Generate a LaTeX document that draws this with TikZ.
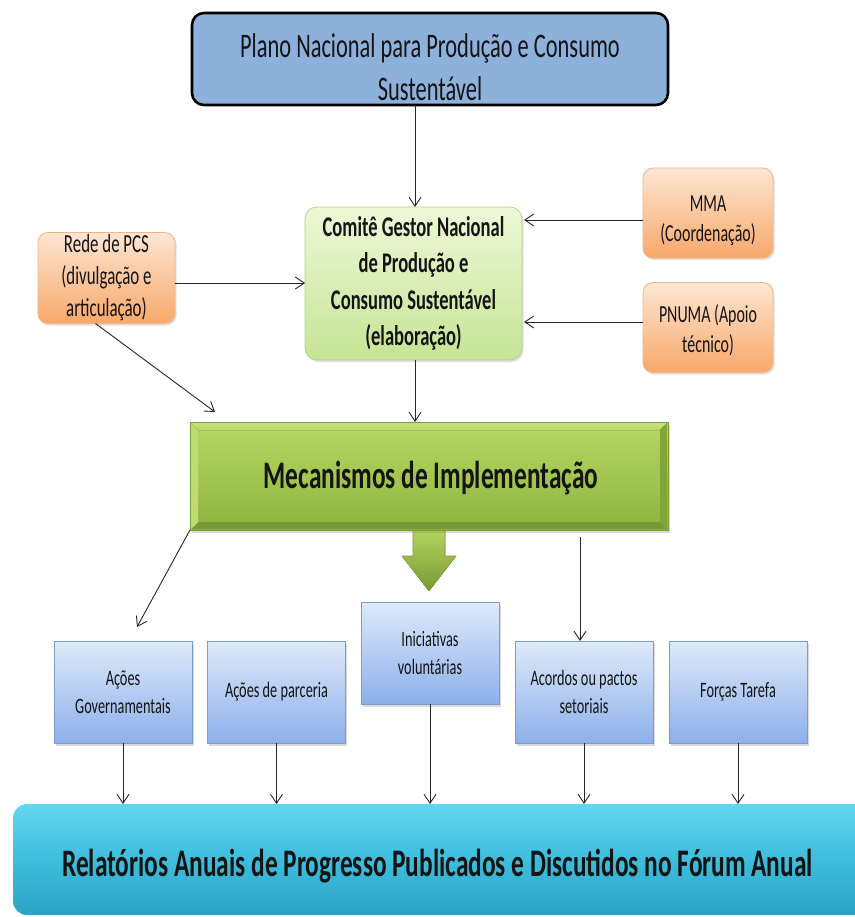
\documentclass[tikz,border=0pt]{standalone}
\usepackage{fontspec}
\setmainfont{Carlito}[FakeStretch=0.65]
\usetikzlibrary{arrows.meta,shadows,calc}
\definecolor{planblue}{HTML}{8EB1DC}
\definecolor{comtop}{HTML}{EDF8D6}
\definecolor{combot}{HTML}{C6E496}
\definecolor{comline}{HTML}{B3D585}
\definecolor{ortop}{HTML}{FDE6D3}
\definecolor{orbot}{HTML}{F8A86A}
\definecolor{orline}{HTML}{EFB489}
\definecolor{gtop}{HTML}{B8D862}
\definecolor{gbot}{HTML}{8DB43E}
\definecolor{gline}{HTML}{7E9F36}
\definecolor{btop}{HTML}{DFEAF9}
\definecolor{bbot}{HTML}{8CAFEB}
\definecolor{bline}{HTML}{7C9CC9}
\definecolor{ctop}{HTML}{62D6F0}
\definecolor{cmid}{HTML}{3EBDDD}
\definecolor{cbot}{HTML}{2DA3C4}
\definecolor{txt}{HTML}{141414}
\begin{document}
\begin{tikzpicture}[x=1pt,y=-1pt,
  every node/.style={inner sep=0pt,outer sep=0pt,text=txt},
  arr/.style={draw=black!85,line width=0.9pt,-{Straight Barb[length=9pt,width=12pt,line width=0.9pt]}},
  planbox/.style={draw=black,line width=2.6pt,rounded corners=12pt,fill=planblue},
  combox/.style={draw=comline,line width=0.8pt,rounded corners=12pt,top color=comtop,bottom color=combot,
     drop shadow={shadow xshift=1.5pt,shadow yshift=-2pt,opacity=0.25}},
  orbox/.style={draw=orline,line width=0.8pt,rounded corners=10pt,top color=ortop,bottom color=orbot,
     drop shadow={shadow xshift=1.5pt,shadow yshift=-2pt,opacity=0.25},
     minimum width=130pt,minimum height=90pt,align=center,font=\fontsize{24.5}{30}\selectfont},
  ortext/.style={align=center,font=\fontsize{24.5}{30}\selectfont},
  mecbox/.style={draw=gline,line width=0.8pt,top color=gtop,bottom color=gbot,
     drop shadow={shadow xshift=2pt,shadow yshift=-3pt,opacity=0.3}},
  bluebox/.style={draw=bline,line width=0.8pt,top color=btop,bottom color=bbot,
     drop shadow={shadow xshift=1.5pt,shadow yshift=-2.5pt,opacity=0.3},
     minimum width=138pt,minimum height=102pt,align=center,font=\fontsize{22}{28}\selectfont},
  barbox/.style={draw=none,rounded corners=14pt,top color=ctop,bottom color=cbot,middle color=cmid}
]
\useasboundingbox (0,0) rectangle (854,917);

% top plan box
\node[planbox,minimum width=476pt,minimum height=92pt] (plan) at (430,59) {};
\node[font=\fontsize{34.5}{43}\selectfont,align=center] (plantext) at (430,67)
  {Plano Nacional para Produção e Consumo\\Sustentável};

% comite
\node[combox,minimum width=217pt,minimum height=153pt,align=center,
  font=\bfseries\fontsize{28.5}{36.5}\selectfont] (cg) at (413.5,283.5)
  {Comitê Gestor Nacional\\de Produção e\\Consumo Sustentável\\(elaboração)};

% orange boxes
\node[orbox,minimum width=137pt,minimum height=91pt,font=\fontsize{26}{32}\selectfont] (rede) at (106.5,278)
  {Rede de PCS\\(divulgação e\\articulação)};
\node[orbox] (mma) at (708,213) {};
\node[ortext] (mmatext) at (708,221) {MMA\\(Coordenação)};
\node[orbox] (pnuma) at (708,327.5) {};
\node[ortext] (pnumatext) at (708,330) {PNUMA (Apoio\\técnico)};

% big green arrow
\fill[top color=gtop,bottom color=gbot!85!black,draw=gline,line width=0.6pt]
  (413,526) -- (445,526) -- (445,556) -- (456,556) -- (429,591) -- (402,556) -- (413,556) -- cycle;

% mecanismos
\node[mecbox,minimum width=478pt,minimum height=108pt] (meca) at (429,476) {};
\fill[top color=gtop!80!white,bottom color=gtop] ($(meca.north west)+(1,1)$) -- ($(meca.north east)+(-1,1)$)
  -- ($(meca.north east)+(-8,8)$) -- ($(meca.north west)+(8,8)$) -- cycle;
\fill[gbot!85!black] ($(meca.south west)+(1,-1)$) -- ($(meca.south east)+(-1,-1)$)
  -- ($(meca.south east)+(-8,-8)$) -- ($(meca.south west)+(8,-8)$) -- cycle;
\fill[gbot!92!black] ($(meca.north east)+(-1,1)$) -- ($(meca.south east)+(-1,-1)$)
  -- ($(meca.south east)+(-8,-8)$) -- ($(meca.north east)+(-8,8)$) -- cycle;
\fill[gtop!90!white] ($(meca.north west)+(1,1)$) -- ($(meca.south west)+(1,-1)$)
  -- ($(meca.south west)+(8,-8)$) -- ($(meca.north west)+(8,8)$) -- cycle;
\node[font=\bfseries\fontsize{39}{45}\selectfont] (mectext) at (431,478) {Mecanismos de Implementação};

% blue boxes
\node[bluebox] (gov) at (123,692) {Ações\\Governamentais};
\node[bluebox] (parc) at (276.5,692) {Ações de parceria};
\node[bluebox] (inic) at (430,653) {Iniciativas\\voluntárias};
\node[bluebox] (acor) at (584,692) {Acordos ou pactos\\setoriais};
\node[bluebox] (forc) at (738,692) {Forças Tarefa};

% bottom bar
\node[barbox,minimum width=900pt,minimum height=111pt] (bar) at (463,859.5) {};
\node[font=\bfseries\fontsize{39}{45}\selectfont] (bartext) at (437.5,866)
  {Relatórios Anuais de Progresso Publicados e Discutidos no Fórum Anual};

% connectors
\coordinate (xa) at (415,0);
\coordinate (y1) at (0,283);
\coordinate (y2) at (0,220);
\coordinate (y3) at (0,322);
\coordinate (t1) at (215,412);
\coordinate (t2) at (137,627);
\coordinate (s3) at (580,537);
\draw[arr] (plan.south -| xa) -- (cg.north -| xa);
\draw[arr] (rede.east |- y1) -- (cg.west |- y1);
\draw[arr] (mma.west |- y2) -- ($(cg.east |- y2)+(2,0)$);
\draw[arr] (pnuma.west |- y3) -- ($(cg.east |- y3)+(2,0)$);
\draw[arr] (cg.south -| xa) -- (meca.north -| xa);
\draw[arr] ($(rede.south)+(-11,0)$) -- (t1);
\draw[arr] (meca.south west) -- (t2);
\draw[arr] (s3) -- (acor.north -| s3);
\foreach \b in {gov,parc,inic,acor,forc}{
  \draw[arr] (\b.south) -- (\b.south |- bar.north);
}
\end{tikzpicture}
\end{document}
